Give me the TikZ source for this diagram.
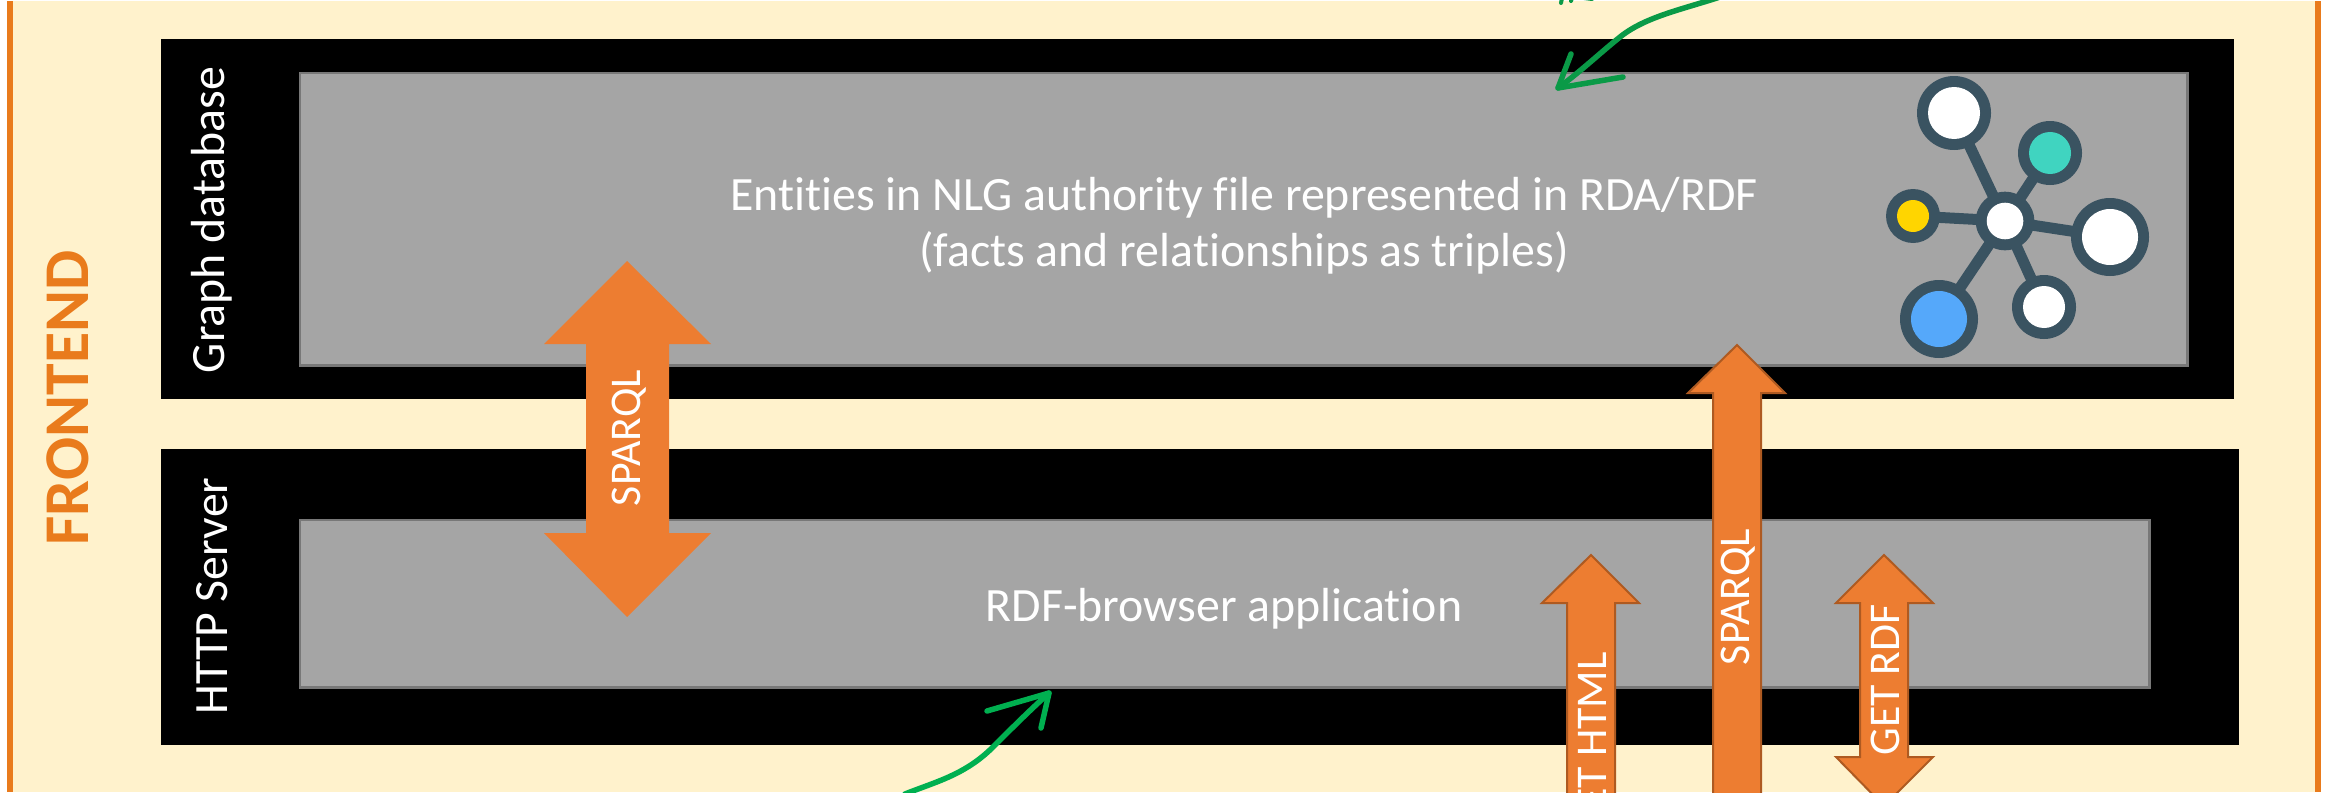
\documentclass[tikz,border=0pt]{standalone}
\usepackage{fontspec}
\setmainfont{Carlito}[Ligatures=NoCommon]
\definecolor{beige}{HTML}{FFF2CC}
\definecolor{stripe}{HTML}{E97B1C}
\definecolor{panel}{HTML}{A5A5A5}
\definecolor{panelline}{HTML}{787878}
\definecolor{arrowfill}{HTML}{ED7D31}
\definecolor{arrowline}{HTML}{AE5A21}
\definecolor{netline}{HTML}{3A5361}
\definecolor{tealdot}{HTML}{40D4C0}
\definecolor{yellowdot}{HTML}{FFD500}
\definecolor{bluedot}{HTML}{55A8FA}
\definecolor{greenA}{HTML}{0A9A47}
\definecolor{greenB}{HTML}{00B050}
\tikzset{
  x=1bp, y=-1bp,
  blockbox/.style={fill=black, draw=none},
  panelbox/.style={fill=panel, draw=panelline, line width=2.5bp},
  thinarrow/.style={fill=arrowfill, draw=arrowline, line width=2bp, line join=miter},
  bigarrow/.style={fill=arrowfill, draw=none},
  lighttext/.style={text=white, font=\fontsize{48}{56}\selectfont, align=center, inner sep=0},
  sidetext/.style={text=white, font=\fontsize{48}{56}\selectfont, rotate=90, inner sep=0},
  arrowtext/.style={text=white, font=\fontsize{44}{50}\selectfont, rotate=90, inner sep=0},
  net/.style={draw=netline, line width=11bp},
  greenstroke/.style={line width=5.5bp, line cap=round, line join=round},
}
\begin{document}
\begin{tikzpicture}
\useasboundingbox (0,0) rectangle (2326,792);
\fill[white] (0,0) rectangle (2326,792);
\fill[beige] (7,1) rectangle (2321,792);
\fill[stripe] (7,1) rectangle (13,792);
\fill[stripe] (2315,1) rectangle (2321,792);
\node[text=stripe, font=\bfseries\fontsize{64}{70}\selectfont, rotate=90, inner sep=0] (front) at (68,398) {FRONTEND};

\fill[blockbox] (161,39) rectangle (2234,399);
\fill[blockbox] (161,449) rectangle (2239,745);
\draw[panelbox] (300,73) rectangle (2187.5,365.5);
\draw[panelbox] (300,520) rectangle (2149.5,687.5);

\node[sidetext] (gdb) at (212,220) {Graph database};
\node[sidetext] (http) at (212,596) {HTTP Server};
\node[lighttext] (ent) at (1244,226) {Entities in NLG authority file represented in RDA/RDF\\(facts and relationships as triples)};
\node[lighttext] (rdfb) at (1224,609) {RDF-browser application};

% big double arrow
\fill[bigarrow] (627,261) -- (711,344) -- (669,344) -- (669,533) -- (711,533) -- (627,617) -- (544,533) -- (586,533) -- (586,344) -- (544,344) -- cycle;
\node[arrowtext] (s1) at (629,438) {SPARQL};

% narrow arrows
\draw[thinarrow] (1737,345) -- (1785,393) -- (1761,393) -- (1761,800) -- (1713,800) -- (1713,393) -- (1688,393) -- cycle;
\node[arrowtext] (s2) at (1738,597) {SPARQL};
\draw[thinarrow] (1591,555) -- (1639,603) -- (1615,603) -- (1615,800) -- (1567,800) -- (1567,603) -- (1542,603) -- cycle;
\node[arrowtext, anchor=east] (gh) at (1592,652) {GET HTML};
\draw[thinarrow] (1884,555) -- (1933,603) -- (1908,603) -- (1908,757) -- (1933,757) -- (1884,806) -- (1836,757) -- (1860,757) -- (1860,603) -- (1836,603) -- cycle;
\node[arrowtext] (gr) at (1885,680) {GET RDF};

% network icon
\coordinate (c) at (2005,221);
\foreach \px/\py in {1954/113, 2050/153, 1913/216, 2110/237, 1939/319, 2044/307} \draw[net] (c) -- (\px,\py);
\foreach \px/\py/\r/\colr in {2005/221/18.3/white, 1954/113/26/white, 2050/153/21/tealdot, 1913/216/16/yellowdot, 2110/237/28/white, 1939/319/28/bluedot, 2044/307/21/white} {
  \fill[netline] (\px,\py) circle ({(\r+11)*1bp});
  \fill[\colr] (\px,\py) circle ({\r*1bp});
}

% green hand-drawn arrows
\coordinate (a0) at (1720,-3);
\coordinate (a1) at (1558,88);
\coordinate (a2) at (1571,54);
\coordinate (a3) at (1623,77);
\draw[greenA, greenstroke] (a0) .. controls (1680,10) and (1645,17) .. (1620,37) .. controls (1600,53) and (1580,72) .. (a1);
\draw[greenA, greenstroke] (a2) -- (a1) -- (a3);
\coordinate (b0) at (905,794);
\coordinate (b1) at (1049,693);
\coordinate (b2) at (987,711);
\coordinate (b3) at (1041,728);
\draw[greenB, greenstroke] (b0) .. controls (935,782) and (965,775) .. (993,747) .. controls (1010,730) and (1030,710) .. (b1);
\draw[greenB, greenstroke] (b2) -- (b1) -- (b3);
% fragments of green handwriting at the top edge
\draw[greenA, line width=4bp, line cap=round] (1562,-2) -- (1561,3);
\draw[greenA, line width=4bp, line cap=round] (1572,-2) -- (1571,1);
\draw[greenA, line width=4bp, line cap=round] (1584,-2) -- (1592,-1);
\end{tikzpicture}
\end{document}
